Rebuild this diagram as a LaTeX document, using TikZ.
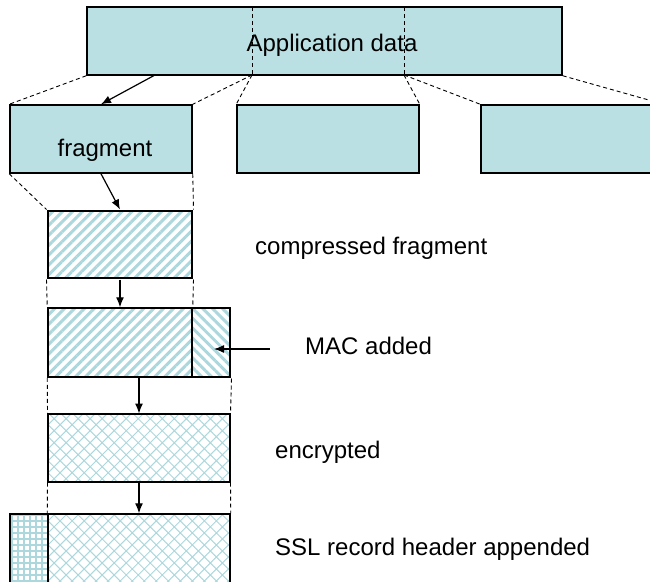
\documentclass[tikz,border=0pt]{standalone}
\usepackage{fontspec}
\setmainfont{Liberation Sans}
\usetikzlibrary{arrows.meta,patterns.meta}
\definecolor{boxblue}{RGB}{187,224,227}
\definecolor{hatchblue}{RGB}{172,216,221}
\tikzset{
  blk/.style={draw,line width=1.5pt,inner sep=0pt,minimum height=68pt},
  frag/.style={blk,fill=boxblue,minimum width=182pt},
  stripes/.style={blk,pattern={Lines[angle=45,distance=7pt,line width=3pt]},pattern color=hatchblue},
  backstripes/.style={blk,pattern={Lines[angle=-45,distance=7pt,line width=3pt]},pattern color=hatchblue},
  cross/.style={blk,pattern={Hatch[angle=45,distance=8.5pt,line width=1pt]},pattern color=hatchblue},
  grid/.style={blk,pattern={Hatch[angle=0,distance=6pt,line width=1.3pt]},pattern color=hatchblue},
  split/.style={dashed,line width=0.9pt,dash pattern=on 4pt off 3pt},
  arr/.style={-{Latex[length=10pt,width=8pt]},line width=1.2pt},
  txt/.style={font=\fontsize{24}{29}\selectfont,inner sep=0pt}
}
\begin{document}
\begin{tikzpicture}[x=1pt,y=-1pt]
  \useasboundingbox (0,0) rectangle (650,581);
  % application data and its fragments
  \node[frag,minimum width=475pt] (app) at (324.5,41) {};
  \node[txt] (apptext) at (332,45) {Application data};
  \coordinate (s1t) at (252,7);
  \coordinate (s1b) at (252,75);
  \coordinate (s2t) at (404,7);
  \coordinate (s2b) at (404,75);
  \node[frag] (frag1) at (101,139) {};
  \node[frag] (frag2) at (328,139) {};
  \node[frag] (frag3) at (572,139) {};
  \node[txt] (fragtext) at (105,150) {fragment};
  \draw[split] (s1t) -- (s1b);
  \draw[split] (s2t) -- (s2b);
  \draw[split] (app.south west) -- (frag1.north west);
  \draw[split] (s1b) -- (frag1.north east);
  \draw[split] (s1b) -- (frag2.north west);
  \draw[split] (s2b) -- (frag2.north east);
  \draw[split] (s2b) -- (frag3.north west);
  \draw[split] (app.south east) -- (frag3.north east);
  \coordinate (a1) at (155,75);
  \draw[arr] (a1) -- (frag1.north);
  % record processing
  \node[stripes,minimum width=144pt,minimum height=67pt] (comp) at (120,244.5) {};
  \node[txt,anchor=west] (comptext) at (255,248) {compressed fragment};
  \draw[split] (frag1.south west) -- (comp.north west);
  \draw[split] (frag1.south east) -- (comp.north east);
  \draw[arr] (frag1.south) -- (comp.north);
  \node[stripes,minimum width=144pt,minimum height=69pt] (macL) at (120,342.5) {};
  \node[backstripes,minimum width=38pt,minimum height=69pt] (macR) at (211,342.5) {};
  \node[txt,anchor=west] (mactext) at (305,346) {MAC added};
  \coordinate (macfrom) at (270,349);
  \draw[split] (comp.south west) -- (macL.north west);
  \draw[split] (comp.south east) -- (macL.north east);
  \draw[arr] (comp.south) -- (macL.north);
  \draw[arr] (macfrom) -- ([xshift=3pt]macR.center |- macfrom);
  \node[cross,minimum width=182pt] (enc) at (139,448) {};
  \node[txt,anchor=west] (enctext) at (275,452) {encrypted};
  \draw[split] (macL.south west) -- (enc.north west);
  \draw[split] (macR.south east) -- (enc.north east);
  \draw[arr] (enc.north |- macL.south) -- (enc.north);
  \node[cross,minimum width=182pt,minimum height=72pt] (ssl) at (139,550) {};
  \node[grid,minimum width=38pt,minimum height=72pt] (hdr) at (29,550) {};
  \node[txt,anchor=west] (ssltext) at (275,549) {SSL record header appended};
  \draw[split] (enc.south west) -- (ssl.north west);
  \draw[split] (enc.south east) -- (ssl.north east);
  \draw[arr] (enc.south) -- (ssl.north);
\end{tikzpicture}
\end{document}
